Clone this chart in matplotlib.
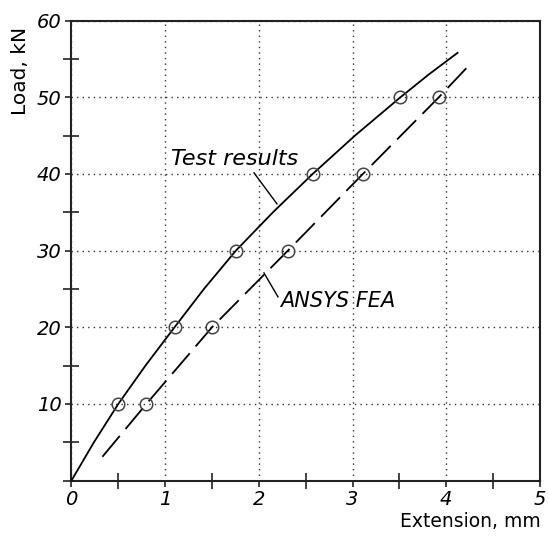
import matplotlib
matplotlib.use("Agg")
import matplotlib.pyplot as plt
from matplotlib.ticker import MultipleLocator

# Data
test_curve_x = [0.0, 0.24, 0.5, 0.79, 1.1, 1.414, 1.755, 2.15, 2.574, 3.025, 3.51, 3.815, 4.12]
test_curve_y = [0.0, 5.0, 10.0, 15.0, 20.0, 25.0, 30.0, 35.0, 40.0, 45.0, 50.0, 53.0, 55.8]
test_marker_x = [0.5, 1.1, 1.755, 2.574, 3.51]
test_marker_y = [10, 20, 30, 40, 50]

fea_curve_x = [0.33, 0.8, 1.5, 2.31, 3.11, 3.92, 4.245]
fea_curve_y = [3.1, 10.0, 20.0, 30.0, 40.0, 50.0, 54.2]
fea_marker_x = [0.8, 1.5, 2.31, 3.11, 3.92]
fea_marker_y = [10, 20, 30, 40, 50]

x_ticks = [0, 1, 2, 3, 4, 5]
y_ticks = [10, 20, 30, 40, 50, 60]
x_label = "Extension, mm"
y_label = "Load, kN"
label_test = "Test results"
label_fea = "ANSYS FEA"

fig = plt.figure(figsize=(5.49, 5.37), dpi=100)
ax = fig.add_axes([0.1302, 0.1052, 0.9836 - 0.1302, 0.9615 - 0.1052])

ax.set_xlim(0, 5)
ax.set_ylim(0, 60)

for s in ax.spines.values():
    s.set_linewidth(1.5)
    s.set_color("#222222")

ax.set_xticks(x_ticks)
ax.set_yticks(y_ticks)
ax.xaxis.set_minor_locator(MultipleLocator(0.5))
ax.yaxis.set_minor_locator(MultipleLocator(5))
ax.tick_params(which="major", direction="out", length=4, width=1.2, color="#222222",
               labelsize=14, pad=3)
ax.tick_params(which="minor", direction="inout", length=12, width=1.2, color="#222222")

ax.set_xticklabels([str(v) for v in x_ticks], fontstyle="italic", fontsize=14)
ax.set_yticklabels([str(v) for v in y_ticks], fontstyle="italic", fontsize=14)

ax.grid(True, which="major", linestyle=(0, (1, 3)), linewidth=1.0, color="#333333")
ax.set_axisbelow(True)

ax.plot(test_curve_x, test_curve_y, color="black", linewidth=1.3, zorder=3)
ax.plot(test_marker_x, test_marker_y, linestyle="none", marker="o", markersize=9,
        markerfacecolor="none", markeredgecolor="#444444", markeredgewidth=1.1, zorder=4)

ax.plot(fea_curve_x, fea_curve_y, color="black", linewidth=1.3, dashes=(15, 5), zorder=3)
ax.plot(fea_marker_x, fea_marker_y, linestyle="none", marker="o", markersize=9,
        markerfacecolor="none", markeredgecolor="#444444", markeredgewidth=1.1, zorder=4)

# Annotations with leader lines
ax.text(1.06, 41.2, label_test, fontsize=16, fontstyle="italic", ha="left", va="baseline")
ax.plot([1.948, 2.193], [40.14, 36.1], color="black", linewidth=1.0)
ax.text(2.225, 22.7, label_fea, fontsize=15, fontstyle="italic", ha="left", va="baseline")
ax.plot([2.054, 2.204], [27.09, 23.96], color="black", linewidth=1.0)

fig.text(0.9855, 0.012, x_label, ha="right", va="bottom", fontsize=13.5)
fig.text(0.020, 0.950, y_label, ha="left", va="top", rotation=90, fontsize=14.5)

fig.savefig("out.png", dpi=100)
